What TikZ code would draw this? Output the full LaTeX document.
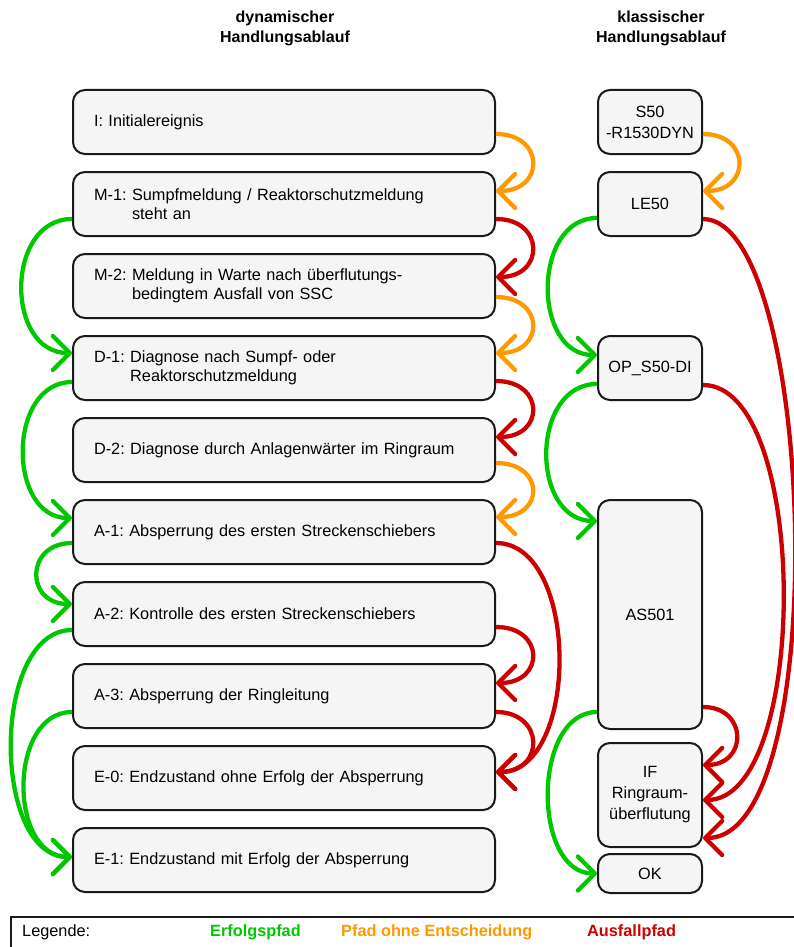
\documentclass[tikz,border=0pt]{standalone}
\usepackage{fontspec}
\setmainfont{Liberation Sans}
\usetikzlibrary{arrows.meta}

\definecolor{okgreen}{RGB}{0,200,0}
\definecolor{plainorange}{RGB}{255,153,0}
\definecolor{failred}{RGB}{204,0,0}
\definecolor{boxfill}{RGB}{245,245,245}
\definecolor{boxline}{RGB}{26,26,26}

\frenchspacing

\begin{document}
\begin{tikzpicture}[x=1pt,y=-1pt,
  font=\fontsize{16.3}{19}\selectfont,
  basebox/.style={draw=boxline, line width=2pt, fill=boxfill,
    rounded corners=12pt, inner ysep=0pt},
  leftbox/.style={basebox, text width=380pt, inner xsep=21pt,
    minimum height=64pt, align=left},
  rightbox/.style={basebox, minimum width=104pt, inner xsep=0pt,
    align=center, font=\fontsize{16.3}{21}\selectfont},
  header/.style={align=center, font=\fontsize{16}{20}\selectfont\bfseries},
  conn/.style={line width=4.3pt,
    -{Straight Barb[length=17pt,width=34pt,round]}},
  okpath/.style={conn, draw=okgreen},
  flatpath/.style={conn, draw=plainorange},
  failpath/.style={conn, draw=failred},
  legendtext/.style={anchor=west, inner sep=0pt},
]
\useasboundingbox (0,0) rectangle (793,947);

% column headers
\node[header] (hdyn) at (285,28) {dynamischer\\Handlungsablauf};
\node[header] (hkl) at (661,28) {klassischer\\Handlungsablauf};

% dynamic action sequence
\node[leftbox] (I)  at (284,122) {I: Initialereignis};
\node[leftbox] (M1) at (284,204) {M-1: Sumpfmeldung / Reaktorschutzmeldung\\\phantom{M-1: }steht an};
\node[leftbox] (M2) at (284,286) {M-2: Meldung in Warte nach überflutungs-\\\phantom{M-2: }bedingtem Ausfall von SSC};
\node[leftbox] (D1) at (284,368) {D-1: Diagnose nach Sumpf- oder\\\phantom{D-1: }Reaktorschutzmeldung};
\node[leftbox] (D2) at (284,450) {D-2: Diagnose durch Anlagenwärter im Ringraum};
\node[leftbox] (A1) at (284,532) {A-1: Absperrung des ersten Streckenschiebers};
\node[leftbox] (A2) at (284,614) {A-2: Kontrolle des ersten Streckenschiebers};
\node[leftbox] (A3) at (284,696) {A-3: Absperrung der Ringleitung};
\node[leftbox] (E0) at (284,778) {E-0: Endzustand ohne Erfolg der Absperrung};
\node[leftbox] (E1) at (284,860) {E-1: Endzustand mit Erfolg der Absperrung};

% classical action sequence
\node[rightbox, minimum height=64pt]  (S50) at (650,122)   {S50\\-R1530DYN};
\node[rightbox, minimum height=64pt]  (LE)  at (650,204)   {LE50};
\node[rightbox, minimum height=64pt]  (OP)  at (650,368)   {OP\_S50-DI};
\node[rightbox, minimum height=229pt] (AS)  at (650,614.5) {AS501};
\node[rightbox, minimum height=104pt] (IF)  at (650,795)   {IF\\Ringraum-\\überflutung};
\node[rightbox, minimum height=39pt]  (OK)  at (650,873.5) {OK};

% dynamic sequence: paths without decision and failure paths (right side)
\draw[flatpath] ([yshift=-12pt]I.east)  .. controls +(49,0) and +(49,0) .. ([yshift=13pt]M1.east);
\draw[failpath] ([yshift=-15pt]M1.east) .. controls +(49,0) and +(49,0) .. ([yshift=9pt]M2.east);
\draw[flatpath] ([yshift=-11pt]M2.east) .. controls +(49,0) and +(49,0) .. ([yshift=15pt]D1.east);
\draw[failpath] ([yshift=-13pt]D1.east) .. controls +(49,0) and +(49,0) .. ([yshift=13pt]D2.east);
\draw[flatpath] ([yshift=-13pt]D2.east) .. controls +(49,0) and +(49,0) .. ([yshift=15pt]A1.east);
\draw[failpath] ([yshift=-11pt]A1.east) .. controls +(84,0) and +(84,0) .. ([yshift=6pt]E0.east);
\draw[failpath] ([yshift=-13pt]A2.east) .. controls +(49,0) and +(49,0) .. ([yshift=13pt]A3.east);
\draw[failpath] ([yshift=-16pt]A3.east) .. controls +(49,0) and +(49,0) .. ([yshift=6pt]E0.east);

% dynamic sequence: success paths (left side)
\draw[okpath] ([yshift=-15pt]M1.west) .. controls +(-67,0) and +(-67,0) .. ([yshift=15pt]D1.west);
\draw[okpath] ([yshift=-14pt]D1.west) .. controls +(-65,0) and +(-65,0) .. ([yshift=14pt]A1.west);
\draw[okpath] ([yshift=-11pt]A1.west) .. controls +(-47,0) and +(-47,0) .. ([yshift=10pt]A2.west);
\draw[okpath] ([yshift=-16pt]A2.west) .. controls +(-81,0) and +(-81,0) .. ([yshift=3pt]E1.west);
\draw[okpath] ([yshift=-16pt]A3.west) .. controls +(-64,0) and +(-64,0) .. ([yshift=3pt]E1.west);

% classical sequence
\draw[flatpath] ([yshift=-12pt]S50.east) .. controls +(48,0) and +(48,0) .. ([yshift=13pt]LE.east);
\draw[okpath]   ([yshift=-14pt]LE.west)  .. controls +(-65,0) and +(-65,0) .. ([yshift=13pt]OP.west);
\draw[failpath] ([yshift=-15pt]LE.east)  .. controls +(112,0) and +(132,0) .. ([yshift=-43pt]IF.east);
\draw[okpath]   ([yshift=-16pt]OP.west)  .. controls +(-67,0) and +(-67,0) .. ([yshift=93.5pt]AS.west);
\draw[failpath] ([yshift=-17pt]OP.east)  .. controls +(107,0) and +(107,0) .. ([yshift=-5pt]IF.east);
\draw[okpath]   ([yshift=-97.5pt]AS.west) .. controls +(-65,0) and +(-65,0) .. (OK.west);
\draw[failpath] ([yshift=-92.5pt]AS.east) .. controls +(45,0) and +(45,0) .. ([yshift=30pt]IF.east);

% legend
\node[draw=boxline, line width=1.5pt, anchor=north west, minimum width=800pt,
  minimum height=44pt, inner sep=0pt] (legend) at (10,916) {};
\node[legendtext] (lgtitle) at (22,932) {Legende:};
\node[legendtext, text=okgreen, font=\fontsize{16.3}{19}\selectfont\bfseries] (lgok) at (210,932) {Erfolgspfad};
\node[legendtext, text=plainorange, font=\fontsize{16.3}{19}\selectfont\bfseries] (lgflat) at (341,932) {Pfad ohne Entscheidung};
\node[legendtext, text=failred, font=\fontsize{16.3}{19}\selectfont\bfseries] (lgfail) at (587,932) {Ausfallpfad};
\end{tikzpicture}
\end{document}
